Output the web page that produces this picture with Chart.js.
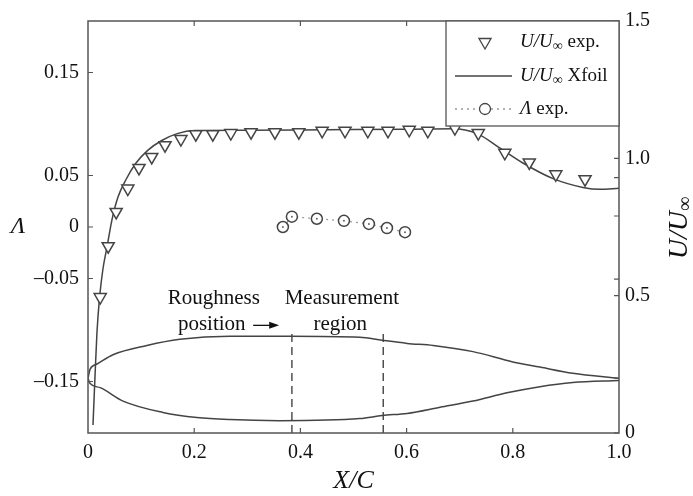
<!DOCTYPE html>
<html>
<head>
  <title>U/U∞ and Λ along the chord</title>
  <script src="https://cdn.jsdelivr.net/npm/chart.js"></script>
  <style>
    body { margin: 0; background: #fff; }
  </style>
</head>
<body>
<canvas id="chart" width="693" height="496"></canvas>

<script>
  // axis ticks
  const xTicks = [0, 0.2, 0.4, 0.6, 0.8, 1.0];
  const lambdaTicks = [-0.15, -0.05, 0, 0.05, 0.15];
  const uTicks = [0, 0.5, 1.0, 1.5];
  const uMinorTicks = [0.2, 0.56, 0.79, 0.93];

  // U/U_inf experiment (triangles)
  const expX = [0.023, 0.038, 0.053, 0.075, 0.096, 0.120, 0.145, 0.175, 0.203, 0.235, 0.269, 0.307, 0.352,
                0.397, 0.441, 0.484, 0.527, 0.565, 0.605, 0.640, 0.691, 0.735, 0.785, 0.831, 0.881, 0.936];
  const expU = [0.495, 0.68, 0.805, 0.89, 0.965, 1.005, 1.048, 1.07, 1.088, 1.088, 1.092, 1.095, 1.095,
                1.095, 1.10, 1.10, 1.10, 1.10, 1.104, 1.10, 1.11, 1.092, 1.02, 0.985, 0.942, 0.924];

  // U/U_inf Xfoil (solid line)
  const xfoilX = [0.0094, 0.0132, 0.0169, 0.0217, 0.0282, 0.0358, 0.0452, 0.0565, 0.0716, 0.0904, 0.113,
                  0.139, 0.168, 0.2015, 0.30, 0.45, 0.60, 0.687, 0.733, 0.776, 0.819, 0.876, 0.932, 0.964, 1.0];
  const xfoilU = [0.029, 0.207, 0.367, 0.492, 0.598, 0.677, 0.777, 0.859, 0.923, 0.983, 1.030,
                  1.065, 1.090, 1.101, 1.102, 1.104, 1.106, 1.108, 1.090, 1.037, 0.983, 0.926, 0.894, 0.887, 0.891];

  // Lambda experiment (circles)
  const lambdaX = [0.367, 0.384, 0.431, 0.482, 0.529, 0.563, 0.597];
  const lambdaY = [0.000, 0.010, 0.008, 0.006, 0.003, -0.001, -0.005];

  // airfoil outline, drawn on the Lambda axis
  const upperX = [0.000, 0.004, 0.017, 0.047, 0.111, 0.173, 0.267, 0.380, 0.512, 0.554, 0.601, 0.650, 0.725, 0.800, 0.851, 0.913, 1.000];
  const upperY = [-0.147, -0.138, -0.133, -0.124, -0.115, -0.109, -0.106, -0.106, -0.107, -0.110, -0.113, -0.115, -0.121, -0.131, -0.136, -0.142, -0.147];
  const lowerX = [0.000, 0.004, 0.023, 0.066, 0.141, 0.205, 0.267, 0.361, 0.512, 0.554, 0.601, 0.663, 0.725, 0.789, 0.851, 0.913, 1.000];
  const lowerY = [-0.147, -0.152, -0.156, -0.169, -0.180, -0.185, -0.187, -0.188, -0.186, -0.183, -0.181, -0.175, -0.169, -0.161, -0.155, -0.151, -0.149];

  // roughness position / end of measurement region
  const markerX = [0.384, 0.556];
  const markerY = [-0.2, -0.099];

  const SERIF = "'Liberation Serif', 'Times New Roman', serif";
  const AXIS = '#555';
  const INK = '#444';
  const TRI = 7;

  function pts(xs, ys) {
    return xs.map((x, i) => ({ x: x, y: ys[i] }));
  }

  function dashLine(x) {
    return {
      data: pts([x, x], markerY), yAxisID: 'yL',
      borderColor: INK, borderWidth: 1.4, borderDash: [8, 5], pointRadius: 0
    };
  }

  // U/U∞ with italic U's and a lowered infinity sign
  function drawUU(ctx, x, y, size) {
    ctx.textAlign = 'left';
    ctx.font = `italic ${size}px ${SERIF}`;
    ctx.fillText('U/U', x, y);
    x += ctx.measureText('U/U').width;
    const small = Math.round(size * 0.72);
    ctx.font = `${small}px ${SERIF}`;
    ctx.fillText('\u221e', x, y + size * 0.22);
    return x + ctx.measureText('\u221e').width;
  }

  function uuWidth(ctx, size) {
    ctx.font = `italic ${size}px ${SERIF}`;
    let w = ctx.measureText('U/U').width;
    ctx.font = `${Math.round(size * 0.72)}px ${SERIF}`;
    return w + ctx.measureText('\u221e').width;
  }

  const decorations = {
    id: 'decorations',
    afterDatasetsDraw(chart) {
      const ctx = chart.ctx;
      const a = chart.chartArea;
      const sx = chart.scales.x, sl = chart.scales.yL, sr = chart.scales.yR;
      const tick = 5;
      ctx.save();

      // frame
      ctx.strokeStyle = AXIS;
      ctx.lineWidth = 1.5;
      ctx.strokeRect(a.left, a.top, a.right - a.left, a.bottom - a.top);

      // inward tick marks
      ctx.lineWidth = 1.2;
      ctx.beginPath();
      xTicks.forEach(v => {
        if (v === 0 || v === 1) return;
        const px = sx.getPixelForValue(v);
        ctx.moveTo(px, a.bottom); ctx.lineTo(px, a.bottom - tick);
        ctx.moveTo(px, a.top); ctx.lineTo(px, a.top + tick);
      });
      lambdaTicks.forEach(v => {
        const py = sl.getPixelForValue(v);
        ctx.moveTo(a.left, py); ctx.lineTo(a.left + tick, py);
      });
      uTicks.concat(uMinorTicks).forEach(v => {
        const py = sr.getPixelForValue(v);
        ctx.moveTo(a.right, py); ctx.lineTo(a.right - tick, py);
      });
      ctx.stroke();

      // annotations
      ctx.fillStyle = '#111';
      ctx.font = `21px ${SERIF}`;
      ctx.textAlign = 'center';
      ctx.textBaseline = 'middle';
      ctx.fillText('Roughness', sx.getPixelForValue(0.237), sl.getPixelForValue(-0.069));
      ctx.fillText('position', sx.getPixelForValue(0.233), sl.getPixelForValue(-0.095));
      ctx.fillText('Measurement', sx.getPixelForValue(0.478), sl.getPixelForValue(-0.069));
      ctx.fillText('region', sx.getPixelForValue(0.475), sl.getPixelForValue(-0.095));

      // arrow
      const ay = sl.getPixelForValue(-0.0955);
      const ax0 = sx.getPixelForValue(0.311), ax1 = sx.getPixelForValue(0.360);
      ctx.strokeStyle = '#111';
      ctx.lineWidth = 1.3;
      ctx.beginPath();
      ctx.moveTo(ax0, ay); ctx.lineTo(ax1 - 8, ay);
      ctx.stroke();
      ctx.beginPath();
      ctx.moveTo(ax1, ay); ctx.lineTo(ax1 - 10, ay - 3.5); ctx.lineTo(ax1 - 10, ay + 3.5);
      ctx.closePath();
      ctx.fill();

      // legend box
      const lw = 173, lh = 105;
      const lx = a.right - lw, ly = a.top;
      ctx.fillStyle = '#fff';
      ctx.fillRect(lx, ly, lw, lh);
      ctx.strokeStyle = AXIS;
      ctx.lineWidth = 1.3;
      ctx.strokeRect(lx, ly, lw, lh);

      const symX = lx + 39, textX = lx + 74;
      const rows = [ly + 21, ly + 55, ly + 88];
      const fs = 19;

      ctx.strokeStyle = INK;
      ctx.fillStyle = '#fff';
      Chart.helpers.drawPoint(ctx, { pointStyle: 'triangle', rotation: 180, radius: TRI, borderWidth: 1.5 }, symX, rows[0]);

      ctx.lineWidth = 1.5;
      ctx.beginPath();
      ctx.moveTo(lx + 9, rows[1]); ctx.lineTo(lx + 66, rows[1]);
      ctx.stroke();

      ctx.strokeStyle = '#999';
      ctx.lineWidth = 1.3;
      ctx.setLineDash([2, 4]);
      ctx.beginPath();
      ctx.moveTo(lx + 9, rows[2]); ctx.lineTo(lx + 66, rows[2]);
      ctx.stroke();
      ctx.setLineDash([]);
      ctx.strokeStyle = INK;
      ctx.fillStyle = '#fff';
      Chart.helpers.drawPoint(ctx, { pointStyle: 'circle', radius: 5.5, borderWidth: 1.5 }, symX, rows[2]);

      ctx.fillStyle = '#111';
      ctx.textBaseline = 'middle';
      let tx = drawUU(ctx, textX, rows[0], fs);
      ctx.font = `${fs}px ${SERIF}`;
      ctx.fillText(' exp.', tx, rows[0]);
      tx = drawUU(ctx, textX, rows[1], fs);
      ctx.font = `${fs}px ${SERIF}`;
      ctx.fillText(' Xfoil', tx, rows[1]);
      ctx.font = `italic ${fs}px ${SERIF}`;
      ctx.fillText('\u039b', textX, rows[2]);
      tx = textX + ctx.measureText('\u039b').width;
      ctx.font = `${fs}px ${SERIF}`;
      ctx.fillText(' exp.', tx, rows[2]);

      // axis titles
      ctx.textAlign = 'center';
      ctx.font = `italic 24px ${SERIF}`;
      ctx.fillText('\u039b', 18, sl.getPixelForValue(0));
      ctx.font = `italic 26px ${SERIF}`;
      ctx.fillText('X/C', (a.left + a.right) / 2, 481);

      ctx.translate(680, 228);
      ctx.rotate(-Math.PI / 2);
      drawUU(ctx, -uuWidth(ctx, 28) / 2, 0, 28);

      ctx.restore();
    }
  };

  const tickFont = { family: SERIF, size: 20 };

  new Chart(document.getElementById('chart'), {
    type: 'line',
    data: {
      datasets: [
        {
          label: 'U/U\u221e exp.', data: pts(expX, expU), yAxisID: 'yR', showLine: false,
          pointStyle: 'triangle', rotation: 180, pointRadius: TRI, pointBorderWidth: 1.5,
          pointBorderColor: INK, pointBackgroundColor: '#fff'
        },
        {
          label: 'centres', data: pts(lambdaX, lambdaY), yAxisID: 'yL', showLine: false,
          pointRadius: 1, pointBorderWidth: 0, pointBackgroundColor: '#666'
        },
        {
          label: '\u039b exp.', data: pts(lambdaX, lambdaY), yAxisID: 'yL',
          borderColor: '#999', borderWidth: 1.3, borderDash: [2, 4],
          pointStyle: 'circle', pointRadius: 5.5, pointBorderWidth: 1.5,
          pointBorderColor: INK, pointBackgroundColor: '#fff'
        },
        {
          label: 'U/U\u221e Xfoil', data: pts(xfoilX, xfoilU), yAxisID: 'yR',
          borderColor: INK, borderWidth: 1.5, pointRadius: 0, cubicInterpolationMode: 'monotone'
        },
        {
          label: 'upper', data: pts(upperX, upperY), yAxisID: 'yL',
          borderColor: INK, borderWidth: 1.5, pointRadius: 0, cubicInterpolationMode: 'monotone'
        },
        {
          label: 'lower', data: pts(lowerX, lowerY), yAxisID: 'yL',
          borderColor: INK, borderWidth: 1.5, pointRadius: 0, cubicInterpolationMode: 'monotone'
        },
        dashLine(markerX[0]),
        dashLine(markerX[1])
      ]
    },
    options: {
      responsive: false,
      animation: false,
      layout: { padding: { top: 12, left: 0, right: 0, bottom: 0 } },
      plugins: { legend: { display: false }, tooltip: { enabled: false } },
      scales: {
        x: {
          type: 'linear', position: 'bottom', min: 0, max: 1,
          grid: { display: false, drawTicks: false }, border: { display: false },
          afterBuildTicks: s => { s.ticks = xTicks.map(v => ({ value: v })); },
          afterFit: s => { s.height = 63; },
          ticks: {
            padding: 8, color: '#111', font: tickFont, maxRotation: 0, autoSkip: false,
            callback: v => v === 0 ? '0' : v.toFixed(1)
          }
        },
        yL: {
          type: 'linear', position: 'left', min: -0.2, max: 0.2,
          grid: { display: false, drawTicks: false }, border: { display: false },
          afterBuildTicks: s => { s.ticks = lambdaTicks.map(v => ({ value: v })); },
          afterFit: s => { s.width = 88; },
          ticks: {
            padding: 9, color: '#111', font: tickFont, autoSkip: false,
            callback: v => v === 0 ? '0' : (v < 0 ? '\u2013' : '') + Math.abs(v).toFixed(2)
          }
        },
        yR: {
          type: 'linear', position: 'right', min: 0, max: 1.5,
          grid: { display: false, drawTicks: false }, border: { display: false },
          afterBuildTicks: s => { s.ticks = uTicks.map(v => ({ value: v })); },
          afterFit: s => { s.width = 74; },
          ticks: {
            padding: 6, color: '#111', font: tickFont, autoSkip: false,
            callback: v => v === 0 ? '0' : v.toFixed(1)
          }
        }
      }
    },
    plugins: [decorations]
  });
</script>
</body>
</html>
